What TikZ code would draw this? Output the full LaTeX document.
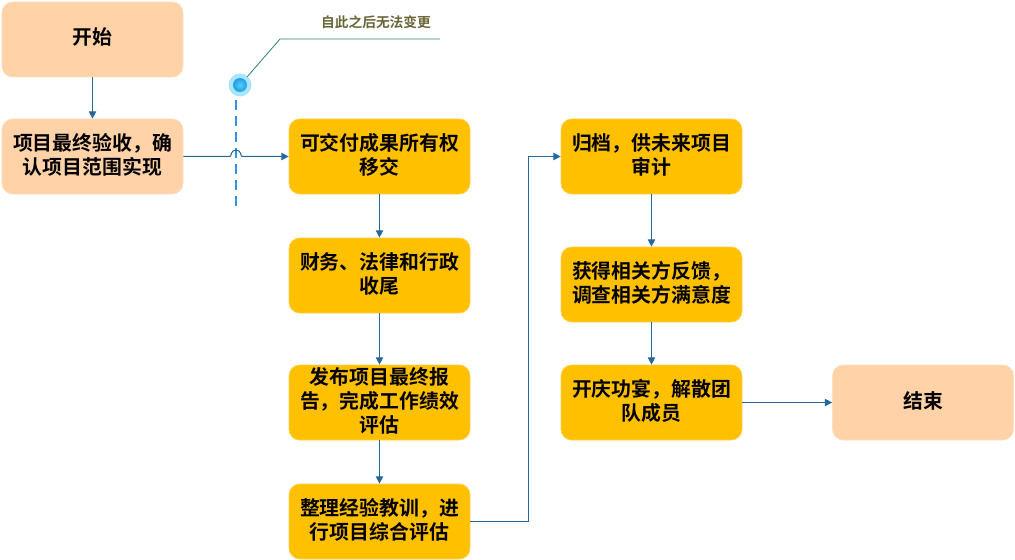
\documentclass[tikz,border=0pt]{standalone}
\usepackage{fontspec}
\setmainfont{Liberation Serif}
\newfontfamily\cjk{Noto Sans CJK SC}[BoldFont={Noto Sans CJK SC Bold}]
\usetikzlibrary{arrows.meta,calc}
\definecolor{peach}{HTML}{FFD2A8}
\definecolor{gold}{HTML}{FFC000}
\definecolor{linkblue}{HTML}{24689B}
\definecolor{dashblue}{HTML}{2F97D8}
\definecolor{leader}{HTML}{2E7F78}
\definecolor{noteolive}{HTML}{6B6637}
\definecolor{halo}{HTML}{A8E6FB}
\definecolor{dotin}{HTML}{55CCF5}
\definecolor{dotout}{HTML}{1E9FE6}
\tikzset{
  x=0.75pt,y=-0.75pt,
  basebox/.style={minimum width=135.75pt,minimum height=56.25pt,inner sep=0pt,rounded corners=8pt,
    align=center,text width=124pt,execute at end node={\par\vspace{3pt}},font=\cjk\bfseries\fontsize{14.9}{18}\selectfont,text=black,anchor=center},
  endbox/.style={basebox,fill=peach,draw=peach!70!white,line width=.5pt},
  workbox/.style={basebox,fill=gold,draw=gold!70!white,line width=.5pt},
  link/.style={draw=linkblue,line width=.75pt,-{Triangle[length=5.5pt,width=5.5pt]}},
}
\begin{document}
\begin{tikzpicture}
\useasboundingbox (0,0) rectangle (1015,560);
\node[endbox] (start) at (92.5,39.5) {开始};
\node[endbox] (accept) at (92.5,156.5) {项目最终验收，确\\认项目范围实现};
\node[workbox] (own) at (379.5,156.5) {可交付成果所有权\\移交};
\node[workbox] (fin) at (379.5,275.5) {财务、法律和行政\\收尾};
\node[workbox] (rep) at (379.5,402.5) {发布项目最终报\\告，完成工作绩效\\评估};
\node[workbox] (les) at (379.5,521.5) {整理经验教训，进\\行项目综合评估};
\node[workbox] (arc) at (651.5,156.5) {归档，供未来项目\\审计};
\node[workbox] (fb) at (651.5,284.5) {获得相关方反馈，\\调查相关方满意度};
\node[workbox] (party) at (651.5,402.5) {开庆功宴，解散团\\队成员};
\node[endbox] (end) at (923,402.5) {结束};

\draw[link] (start) -- (accept);
\draw[dashblue,line width=1pt,dash pattern=on 7.5pt off 4.5pt] (236,100) -- (236,207);
\draw[link] (accept.east) -- (230,156.5) .. controls (231.5,156.5) and (230.5,150) .. (236,150)
  .. controls (241.5,150) and (240.5,156.5) .. (242,156.5) -- (own.west);
\draw[link] (own) -- (fin);
\draw[link] (fin) -- (rep);
\draw[link] (rep) -- (les);
\draw[link] (les.east) -- (528,521.5) -- (528,156.5) -- (arc.west);
\draw[link] (arc) -- (fb);
\draw[link] (fb) -- (party);
\draw[link] (party) -- (end);

\fill[halo] (240,85) circle[radius=11.5];
\shade[inner color=dotin,outer color=dotout] (240,85) circle[radius=7];
\coordinate (markertip) at (247,77);
\draw[leader,line width=.6pt] (markertip) -- (280,39) -- (440,39);
\node[font=\cjk\bfseries\fontsize{10.3}{12}\selectfont,text=noteolive,inner sep=0pt] (note) at (376,22.5) {自此之后无法变更};
\end{tikzpicture}
\end{document}
